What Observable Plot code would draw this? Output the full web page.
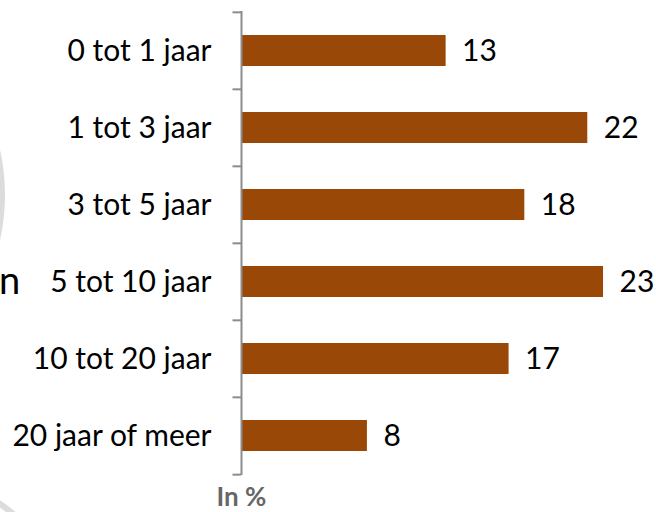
<!DOCTYPE html>
<html>
<head>
<meta charset="utf-8">
<script src="https://cdn.jsdelivr.net/npm/d3@7"></script>
<script src="https://cdn.jsdelivr.net/npm/@observablehq/plot@0.6"></script>
<style>
  html, body { margin: 0; padding: 0; background: #fff; }
  #wrap { position: relative; width: 656px; height: 512px; overflow: hidden; font-family: Lato, sans-serif; }
  #wrap svg { position: absolute; left: 0; top: 0; }
  .ring { position: absolute; border-radius: 50%; border: 6px solid #dcdcdc; box-sizing: border-box; }
  #cut { position: absolute; left: -1px; top: 260px; font-size: 38px; color: #000; line-height: 1; }
</style>
</head>
<body>
<div id="wrap">
  <div class="ring" style="left:-405px; top:-10px; width:410px; height:410px;"></div>
  <div class="ring" style="left:-280px; top:470px; width:360px; height:360px;"></div>
  <div id="cut">n</div>
</div>
<script>
const categories = ["0 tot 1 jaar", "1 tot 3 jaar", "3 tot 5 jaar", "5 tot 10 jaar", "10 tot 20 jaar", "20 jaar of meer"];
const values = [13, 22, 18, 23, 17, 8];
const unitLabel = "In %";

const data = categories.map((c, i) => ({cat: c, val: values[i]}));

const W = 656, H = 512, mTop = 11, mBottom = 37, mLeft = 241, mRight = 21.5;
const step = (H - mTop - mBottom) / categories.length;
const axisColor = "#8c8c8c";

const chart = Plot.plot({
  width: W,
  height: H,
  marginTop: mTop,
  marginBottom: mBottom,
  marginLeft: mLeft,
  marginRight: mRight,
  style: {fontFamily: "Lato, sans-serif", background: "transparent"},
  x: {domain: [0, 25], axis: null},
  y: {domain: categories, paddingInner: 0.6, paddingOuter: 0.3, label: null},
  marks: [
    Plot.barX(data, {y: "cat", x: "val", fill: "#994807"}),
    Plot.text(data, {y: "cat", x: "val", text: d => String(d.val), textAnchor: "start", dx: 16, fontSize: 30, fill: "#000"}),
    Plot.axisY({tickSize: 0, tickPadding: 30, fontSize: 30, fill: "#000", label: null}),
    Plot.ruleX([0], {stroke: axisColor, strokeWidth: 2}),
    Plot.ruleY(categories, {y: d => d, x1: -0.54, x2: 0, dy: -step / 2, stroke: axisColor, strokeWidth: 2}),
    Plot.ruleY(categories.slice(-1), {y: d => d, x1: -0.54, x2: 0, dy: step / 2, stroke: axisColor, strokeWidth: 2}),
    Plot.text([unitLabel], {x: () => 0, text: d => d, frameAnchor: "bottom", lineAnchor: "middle", dy: 22, fontSize: 26, fontWeight: "bold", fill: "#666666"})
  ]
});
document.getElementById("wrap").appendChild(chart);
</script>
</body>
</html>
